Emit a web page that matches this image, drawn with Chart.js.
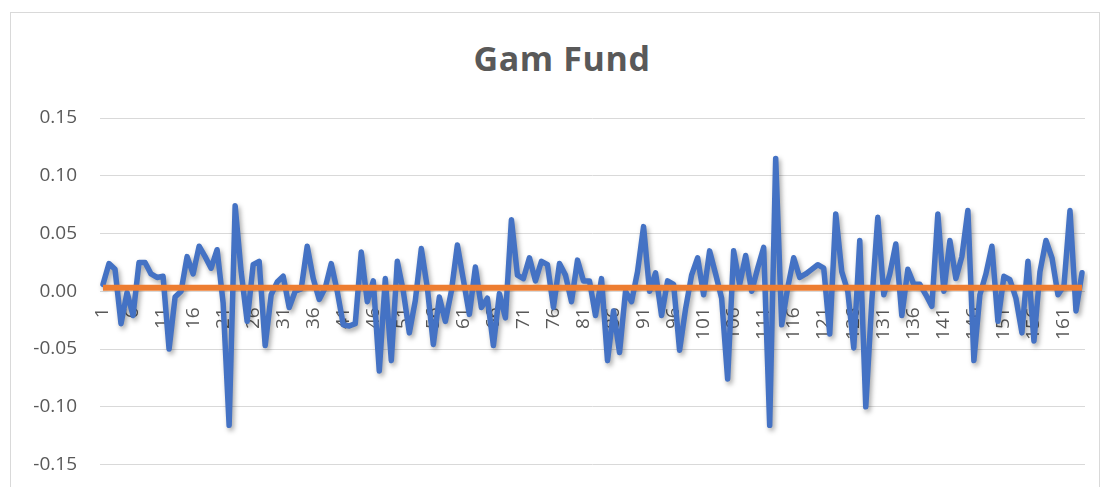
<!DOCTYPE HTML>
<html>
<head>
    <script src="https://cdn.jsdelivr.net/npm/chart.js"></script>
    <style>
        body { margin: 0; background: #ffffff; overflow: hidden; }
        #frame { position: absolute; left: 10px; top: 12px; width: 1088px; height: 500px; border: 1px solid #d9d9d9; }
        #title { position: absolute; left: 0; top: 35px; width: 1124px; text-align: center; font-family: "Open Sans", sans-serif; font-weight: bold; font-size: 34px; color: #595959; letter-spacing: 0.6px; }
        #chartBox { position: absolute; left: 0; top: 0; width: 1102px; height: 499px; }
    </style>
</head>
<body>

<div id="frame"></div>
<div id="title">Gam Fund</div>
<div id="chartBox"><canvas id="myChart"></canvas></div>

<script type="text/javascript">

    // monthly returns, periods 1..164
    const returns = [
        0.006, 0.024, 0.019, -0.028, -0.001, -0.021, 0.025, 0.025, 0.015, 0.012,
        0.013, -0.050, -0.005, 0.000, 0.030, 0.015, 0.039, 0.030, 0.020, 0.036,
        -0.010, -0.116, 0.074, 0.017, -0.026, 0.023, 0.026, -0.047, -0.003, 0.008,
        0.013, -0.014, 0.000, 0.002, 0.039, 0.011, -0.007, 0.003, 0.024, 0.000,
        -0.029, -0.030, -0.028, 0.034, -0.009, 0.009, -0.069, 0.011, -0.060, 0.026,
        0.000, -0.036, -0.008, 0.037, 0.003, -0.046, -0.005, -0.026, 0.000, 0.040,
        0.010, -0.020, 0.021, -0.014, -0.006, -0.047, -0.002, -0.023, 0.062, 0.014,
        0.011, 0.029, 0.009, 0.026, 0.023, -0.014, 0.024, 0.014, -0.009, 0.027,
        0.009, 0.009, -0.021, 0.011, -0.060, -0.017, -0.053, 0.000, -0.009, 0.017,
        0.056, 0.000, 0.016, -0.021, 0.009, 0.006, -0.051, -0.015, 0.014, 0.029,
        -0.003, 0.035, 0.015, -0.006, -0.076, 0.035, 0.006, 0.031, 0.000, 0.020,
        0.038, -0.116, 0.115, -0.029, 0.003, 0.029, 0.012, 0.015, 0.019, 0.023,
        0.020, -0.037, 0.067, 0.017, 0.000, -0.049, 0.044, -0.100, -0.009, 0.064,
        -0.003, 0.015, 0.041, -0.021, 0.019, 0.006, 0.006, -0.003, -0.013, 0.067,
        0.000, 0.044, 0.011, 0.030, 0.070, -0.060, -0.003, 0.015, 0.039, -0.026,
        0.013, 0.010, -0.006, -0.036, 0.026, -0.043, 0.017, 0.044, 0.029, -0.003,
        0.005, 0.070, -0.017, 0.016
    ];

    // flat orange line (average return)
    const meanReturn = 0.003;

    const yTicks = [-0.15, -0.10, -0.05, 0.00, 0.05, 0.10, 0.15];

    const periods = returns.map((v, i) => String(i + 1));
    const meanSeries = periods.map(() => meanReturn);

    const shadowPlugin = {
        id: 'lineShadow',
        beforeDatasetDraw(chart, args) {
            if (args.index !== 1) return;
            const ctx = chart.ctx;
            ctx.save();
            ctx.shadowColor = 'rgba(0,0,0,0.35)';
            ctx.shadowBlur = 5;
            ctx.shadowOffsetX = 2;
            ctx.shadowOffsetY = 3;
        },
        afterDatasetDraw(chart, args) {
            if (args.index !== 1) return;
            chart.ctx.restore();
        }
    };

    const tickFont = { family: '"Open Sans", sans-serif', size: 19 };

    const config = {
        type: 'line',
        plugins: [shadowPlugin],
        data: {
            labels: periods,
            datasets: [{
                label: 'Mean',
                data: meanSeries,
                borderColor: '#ED7D31',
                borderWidth: 6,
                pointRadius: 0,
                order: 0
            }, {
                label: 'Gam Fund',
                data: returns,
                borderColor: '#4472C4',
                borderWidth: 5.5,
                borderJoinStyle: 'round',
                borderCapStyle: 'round',
                pointRadius: 0,
                tension: 0,
                order: 1
            }]
        },
        options: {
            responsive: true,
            maintainAspectRatio: false,
            animation: false,
            layout: { padding: { left: 28, right: 17, top: 118, bottom: 25 } },
            plugins: {
                legend: { display: false },
                title: { display: false },
                tooltip: { enabled: false }
            },
            scales: {
                x: {
                    position: { y: 0 },
                    offset: true,
                    afterFit: function (scale) {
                        scale.paddingLeft = 0;
                        scale.paddingRight = 0;
                    },
                    grid: { display: false, drawTicks: false },
                    border: { display: false },
                    ticks: {
                        autoSkip: false,
                        minRotation: 90,
                        maxRotation: 90,
                        padding: 16,
                        color: '#595959',
                        font: tickFont,
                        callback: function (value, index) {
                            return index % 5 === 0 ? periods[index] : '';
                        }
                    }
                },
                y: {
                    min: -0.15,
                    max: 0.15,
                    afterFit: function (scale) { scale.width = 72; },
                    afterBuildTicks: function (scale) {
                        scale.ticks = yTicks.map(v => ({ value: v }));
                    },
                    grid: { color: '#d9d9d9', lineWidth: 1, drawTicks: false },
                    border: { display: false },
                    ticks: {
                        padding: 23,
                        color: '#595959',
                        font: tickFont,
                        callback: function (value) { return value.toFixed(2); }
                    }
                }
            }
        }
    };

    const myChart = new Chart(document.getElementById('myChart'), config);

</script>
</body>
</html>
